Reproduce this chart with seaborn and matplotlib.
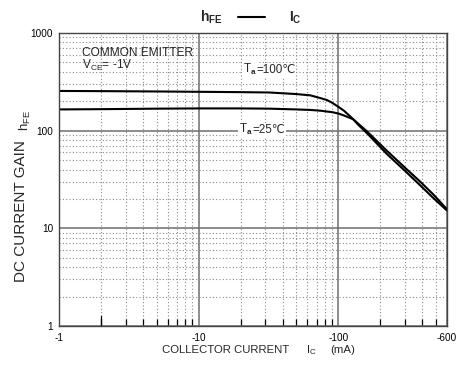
import matplotlib
matplotlib.use("Agg")
import matplotlib.pyplot as plt
import matplotlib.ticker as mticker
from matplotlib.lines import Line2D
import numpy as np
import pandas as pd
import seaborn as sns

# values
current_ma = [1, 2, 5, 10, 20, 32, 50, 63, 75, 83, 90, 100, 110, 120, 128, 140, 160, 224, 300, 388, 480, 600]
hfe_100c = [255, 254, 252, 250, 248, 246, 237, 230, 215, 206, 194, 176, 160, 143, 131, 114, 95, 57.5, 39, 27.5, 20.5, 15.3]
hfe_25c = [165, 166, 168, 169, 169, 168, 165, 163, 160, 157, 155, 150, 143, 136, 131, 117, 99, 62, 42, 30, 22.3, 15.8]

x_ticks = [1, 10, 100, 600]
x_labels = ["-1", "-10", "-100", "-600"]
y_ticks = [1, 10, 100, 1000]
y_labels = ["1", "10", "100", "1000"]

df = pd.concat([
    pd.DataFrame({"current": current_ma, "hfe": hfe_100c, "temp": "100"}),
    pd.DataFrame({"current": current_ma, "hfe": hfe_25c, "temp": "25"}),
])

sns.set_theme(style="white")
plt.rcParams['font.family'] = ['Liberation Sans', 'DejaVu Sans']
plt.rcParams['mathtext.fontset'] = 'custom'
plt.rcParams['mathtext.rm'] = 'Liberation Sans'
plt.rcParams['mathtext.bf'] = 'Liberation Sans:bold'

W, H = 475, 376
fig = plt.figure(figsize=(W / 100, H / 100), dpi=100)
ax = fig.add_axes([59.3 / W, 1 - 326 / H, (446.7 - 59.3) / W, (326 - 33) / H])


def px(x, y):
    return x / W, 1 - y / H


ax.set_xscale("log")
ax.set_yscale("log")
ax.set_xlim(1, 600)
ax.set_ylim(1, 1000)

ax.xaxis.set_major_locator(mticker.FixedLocator(x_ticks))
ax.xaxis.set_major_formatter(mticker.FixedFormatter(x_labels))
ax.yaxis.set_major_locator(mticker.FixedLocator(y_ticks))
ax.yaxis.set_major_formatter(mticker.FixedFormatter(y_labels))
ax.xaxis.set_minor_locator(mticker.LogLocator(base=10, subs=np.arange(2, 10)))
ax.yaxis.set_minor_locator(mticker.LogLocator(base=10, subs=np.arange(2, 10)))
ax.xaxis.set_minor_formatter(mticker.NullFormatter())
ax.yaxis.set_minor_formatter(mticker.NullFormatter())

ax.grid(which="major", color="#6e6e6e", linewidth=1.1, linestyle="-")
ax.grid(which="minor", color="#8a8a8a", linewidth=0.8, linestyle=(0, (1, 2)))
ax.set_axisbelow(True)

ax.tick_params(axis="both", which="major", length=0, labelsize=7.2, colors="black")
ax.tick_params(axis="x", which="major", pad=5)
ax.tick_params(axis="y", which="major", pad=4.5)
ax.tick_params(axis="x", which="minor", direction="in", length=5, width=0.9, color="black", bottom=True)
ax.tick_params(axis="y", which="minor", length=0)
# the "2" tick is drawn a bit longer in the original
ax.axvline(2, ymin=0, ymax=10 / 293, color="black", linewidth=0.9)

for s in ax.spines.values():
    s.set_color("#444444")
    s.set_linewidth(1.0)

sns.lineplot(data=df, x="current", y="hfe", hue="temp", palette=["black", "black"],
             estimator=None, sort=False, legend=False, linewidth=1.5, ax=ax)
ax.set_xlabel("")
ax.set_ylabel("")

# title  hFE —— IC
fig.text(*px(200, 22), r"h$_{\bf FE}$", fontsize=10, fontweight="bold", va="baseline")
fig.text(*px(289, 22), r"I$_{\bf C}$", fontsize=10, fontweight="bold", va="baseline")
fig.add_artist(Line2D([238 / W, 265 / W], [1 - 17 / H, 1 - 17 / H], color="black", linewidth=1.5))

# annotations
fig.text(*px(82, 55.5), "COMMON EMITTER", fontsize=8.6, va="baseline")
fig.text(*px(82, 68.5), r"V$_{\rm CE}$= -1V", fontsize=8.6, va="baseline")
box = dict(facecolor="white", edgecolor="none", pad=0.5)
fig.text(*px(243, 73), r"T$_{\bf a}$", fontsize=8.4, va="baseline", bbox=box)
fig.text(*px(256.5, 73), "=100℃", fontsize=8.4, va="baseline", bbox=box)
fig.text(*px(239, 133), r"T$_{\bf a}$", fontsize=8.4, va="baseline", bbox=box)
fig.text(*px(252.5, 133), "=25℃", fontsize=8.4, va="baseline", bbox=box)

# axis labels
fig.text(*px(162, 353), "COLLECTOR CURRENT", fontsize=8.2, va="baseline")
fig.text(*px(306, 353), r"I$_{\rm C}$", fontsize=8.2, va="baseline")
fig.text(*px(330, 353), "(mA)", fontsize=8.2, va="baseline")
fig.text(*px(21, 282), "DC CURRENT GAIN", fontsize=11, rotation=90, ha="center", va="bottom")
fig.text(*px(25, 131), r"h$_{\rm FE}$", fontsize=9.5, rotation=90, ha="center", va="bottom")

fig.savefig("out.png", dpi=100)
